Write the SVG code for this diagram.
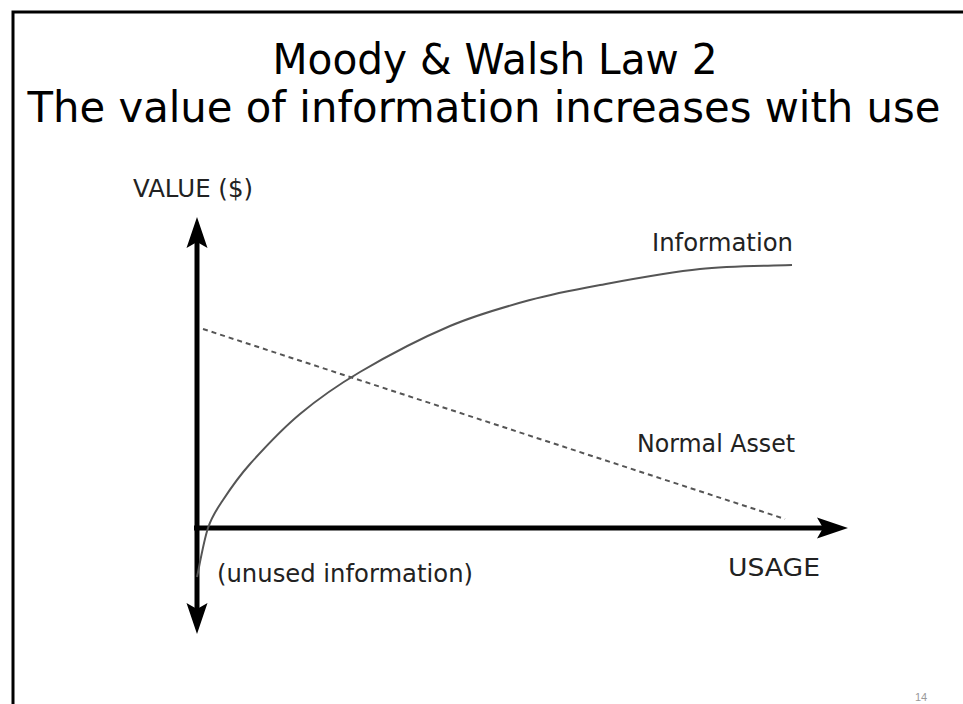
<svg xmlns="http://www.w3.org/2000/svg" width="963" height="704" viewBox="0 0 963 704">
  <style>
    .title { font-family: "DejaVu Sans", "Liberation Sans", sans-serif; font-size: 42px; fill: #000; }
    .lbl { font-family: "DejaVu Sans", "Liberation Sans", sans-serif; font-size: 24px; fill: #222; }
    .axis { stroke: #000; stroke-width: 5; fill: none; }
    .curve { stroke: #555; stroke-width: 2; fill: none; }
    .dash { stroke: #555; stroke-width: 2; fill: none; stroke-dasharray: 5 4; }
  </style>
  <defs>
    <path id="arrowhead" d="M0,0 L-31,-10.5 L-25,0 L-31,10.5 Z" fill="#000"/>
  </defs>
  <rect x="0" y="0" width="963" height="704" fill="#fff"/>
  <path d="M13,720 V12 H970" fill="none" stroke="#000" stroke-width="3"/>

  <g id="title">
    <text class="title" x="495" y="74" text-anchor="middle" textLength="445" lengthAdjust="spacingAndGlyphs">Moody &amp; Walsh Law 2</text>
    <text class="title" x="484" y="122" text-anchor="middle" textLength="913" lengthAdjust="spacingAndGlyphs">The value of information increases with use</text>
  </g>

  <g id="axes">
    <line class="axis" x1="197" y1="240" x2="197" y2="612"/>
    <line class="axis" x1="194" y1="528" x2="825" y2="528"/>
    <use href="#arrowhead" transform="translate(197,217) rotate(-90)"/>
    <use href="#arrowhead" transform="translate(197,634) rotate(90)"/>
    <use href="#arrowhead" transform="translate(848,528)"/>
  </g>

  <g id="connectors">
    <path id="information-curve" class="curve" d="M197,577 C198.8,568.8 203.7,540.8 208,528 C212.3,515.2 216,510.7 223,500 C230,489.3 237.2,478.3 250,464 C262.8,449.7 281.7,429.3 300,414 C318.3,398.7 335,386.7 360,372 C385,357.3 421.7,338 450,326 C478.3,314 505,306.8 530,300 C555,293.2 571.7,290.2 600,285 C628.3,279.8 668,272.3 700,269 C732,265.7 776.7,265.7 792,265"/>
    <line id="normal-asset-line" class="dash" x1="203" y1="329" x2="785" y2="519"/>
  </g>

  <g id="label-value">
    <text class="lbl" x="253" y="197" text-anchor="end" textLength="120" lengthAdjust="spacingAndGlyphs">VALUE ($)</text>
  </g>
  <g id="label-information">
    <text class="lbl" x="652" y="251" textLength="141" lengthAdjust="spacingAndGlyphs">Information</text>
  </g>
  <g id="label-normal-asset">
    <text class="lbl" x="637" y="452" textLength="158" lengthAdjust="spacingAndGlyphs">Normal Asset</text>
  </g>
  <g id="label-usage">
    <text class="lbl" x="728" y="576" textLength="92" lengthAdjust="spacingAndGlyphs">USAGE</text>
  </g>
  <g id="label-unused">
    <text class="lbl" x="217" y="582" textLength="256" lengthAdjust="spacingAndGlyphs">(unused information)</text>
  </g>
  <g id="page-number">
    <text x="915" y="701" font-family="Liberation Sans, sans-serif" font-size="11" fill="#999">14</text>
  </g>
</svg>
